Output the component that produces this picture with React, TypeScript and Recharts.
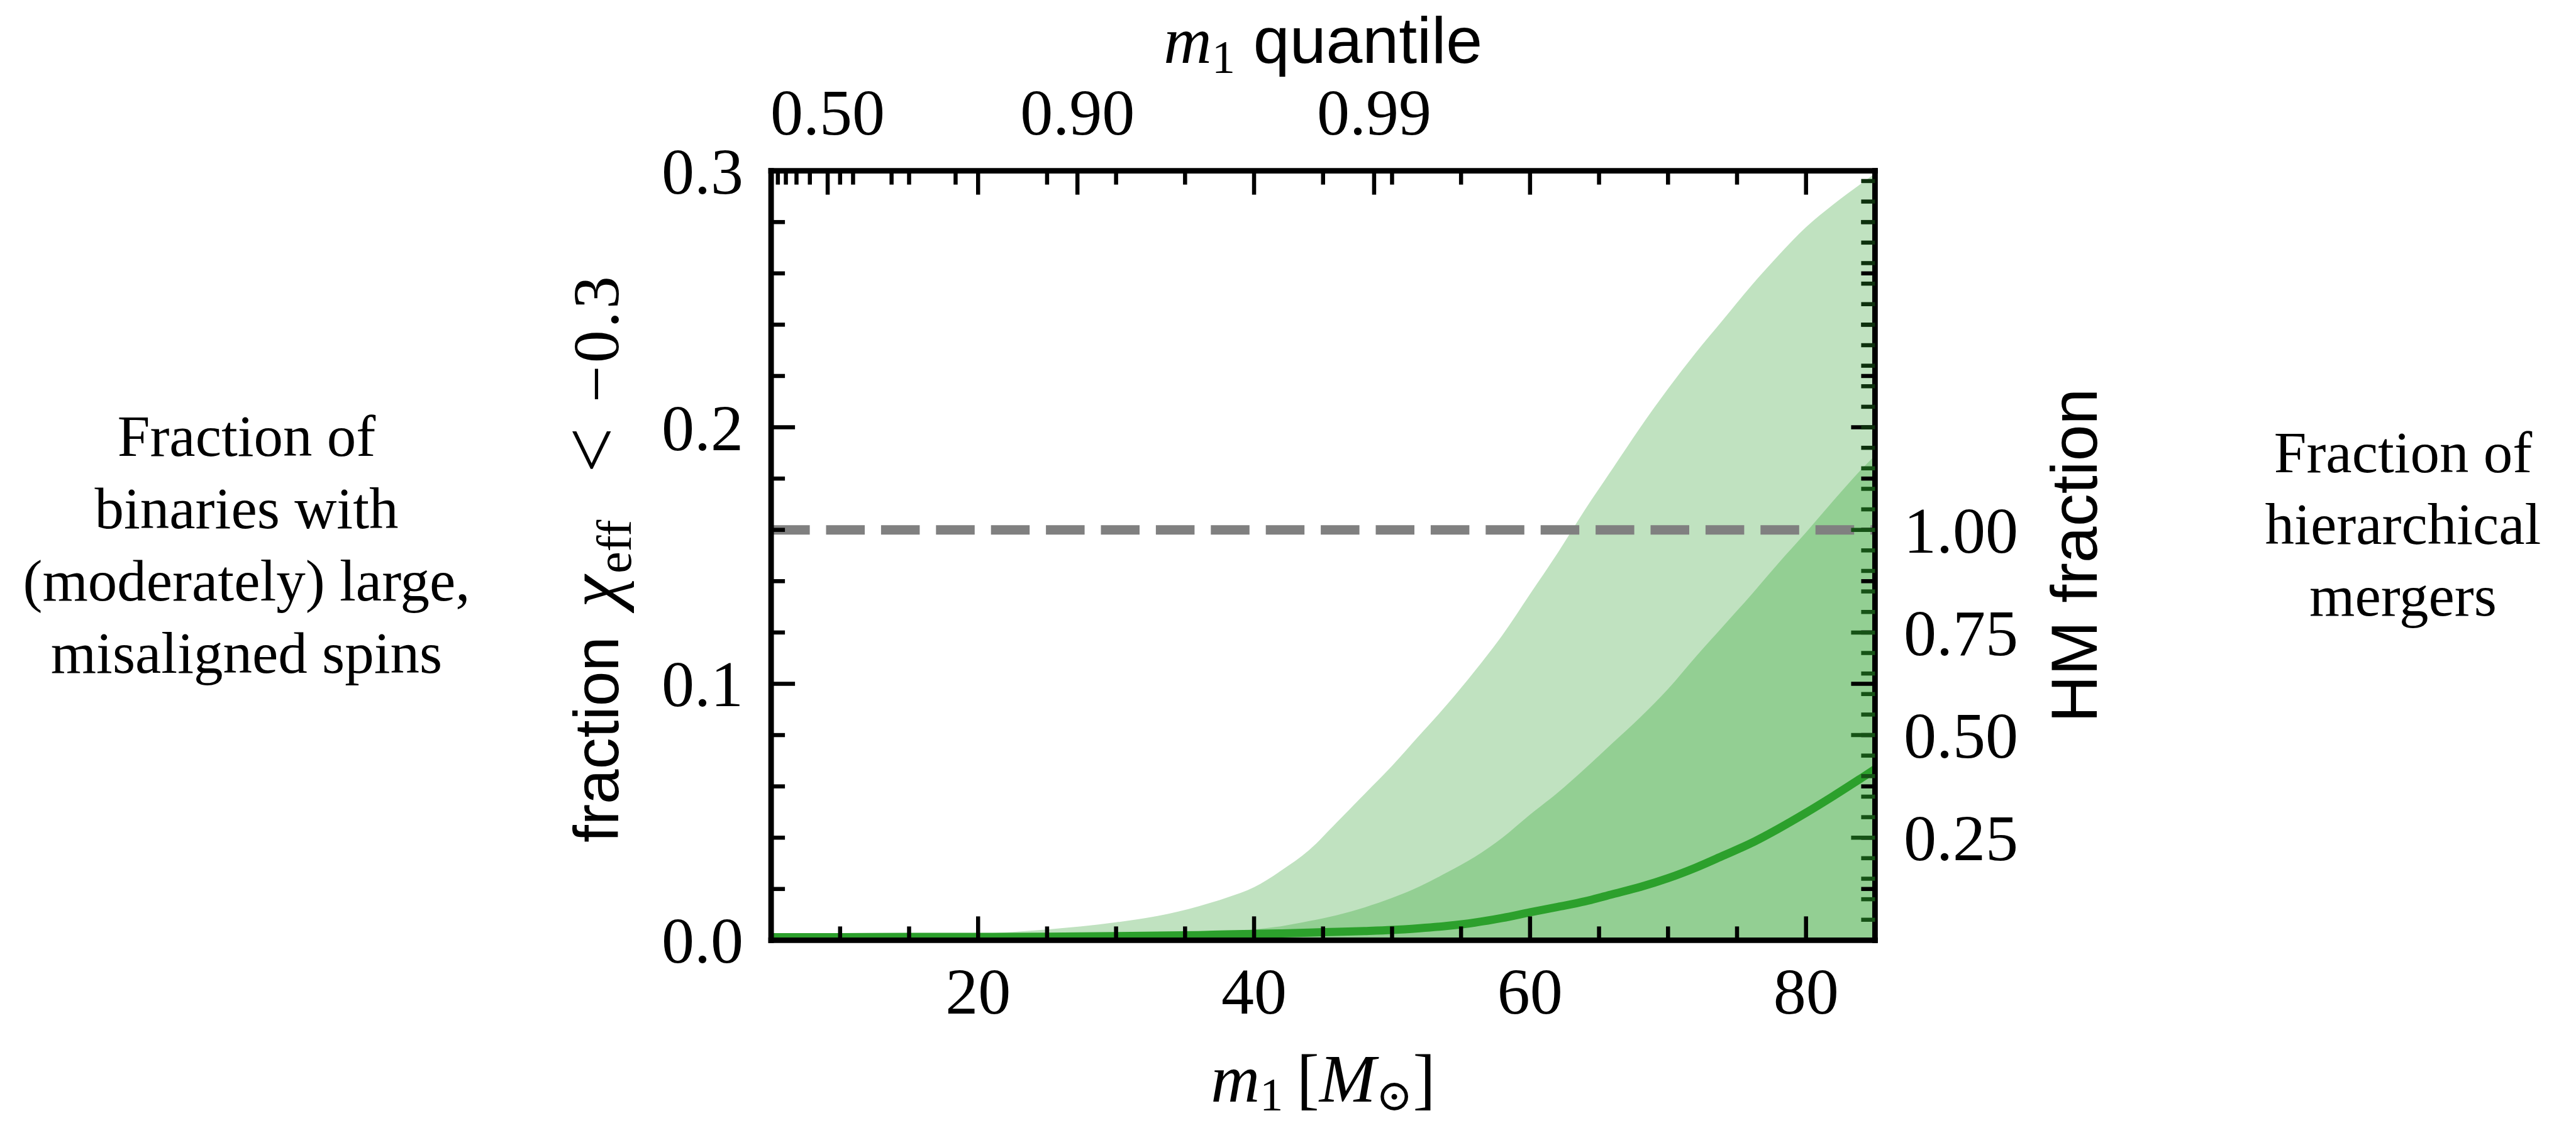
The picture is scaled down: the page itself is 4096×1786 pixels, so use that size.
import React from 'react';
import { ComposedChart, Area, Line, XAxis, YAxis, ReferenceLine, Label } from 'recharts';

// ---------------- data ----------------
const m1Values = [5, 10, 15, 20, 25, 30, 33, 36, 38, 40, 42, 44, 46, 48, 50, 52, 54, 56, 58, 60, 62, 64, 66, 68, 70, 72, 74, 76, 78, 80, 82, 84, 85];
const upper90 = [0.0004, 0.0008, 0.0015, 0.0025, 0.0042, 0.007, 0.0095, 0.0133, 0.0166, 0.0207, 0.0273, 0.0352, 0.046, 0.057, 0.068, 0.08, 0.092, 0.105, 0.119, 0.135, 0.151, 0.168, 0.184, 0.2, 0.215, 0.229, 0.242, 0.255, 0.267, 0.278, 0.287, 0.295, 0.299];
const upper50 = [0.0003, 0.0004, 0.0005, 0.0007, 0.001, 0.0014, 0.0018, 0.0024, 0.0032, 0.0042, 0.0055, 0.0075, 0.0098, 0.0128, 0.0165, 0.021, 0.0265, 0.0325, 0.04, 0.049, 0.0575, 0.067, 0.077, 0.087, 0.098, 0.1105, 0.1225, 0.1345, 0.147, 0.159, 0.1715, 0.1835, 0.189];
const medianValues = [0.0012, 0.0012, 0.0013, 0.0013, 0.0014, 0.0016, 0.0018, 0.002, 0.0023, 0.0025, 0.0027, 0.003, 0.0033, 0.0036, 0.004, 0.0047, 0.0056, 0.0069, 0.0087, 0.0109, 0.013, 0.0152, 0.018, 0.0208, 0.0242, 0.0283, 0.033, 0.0378, 0.0435, 0.0497, 0.0563, 0.0632, 0.0667];

const hmReferenceLevel = 0.16; // left-axis value where HM fraction = 1

const xMajorTicks = [20, 40, 60, 80];
const xMinorTicks = [10, 15, 25, 30, 35, 45, 50, 55, 65, 70, 75];
const yMajorTicks = [0, 0.1, 0.2, 0.3];
const yMinorTicks = [0.02, 0.04, 0.06, 0.08, 0.12, 0.14, 0.16, 0.18, 0.22, 0.24, 0.26, 0.28];
const hmMajorTicks = [0.25, 0.5, 0.75, 1.0];
const hmMajorLabels = ['0.25', '0.50', '0.75', '1.00'];
const hmMinorTicks = [0.05, 0.1, 0.15, 0.2, 0.3, 0.35, 0.4, 0.45, 0.55, 0.6, 0.65, 0.7, 0.8, 0.85, 0.9, 0.95, 1.05, 1.1, 1.15, 1.2, 1.25, 1.3, 1.35, 1.4, 1.45, 1.5, 1.55, 1.6, 1.65, 1.7, 1.75, 1.8, 1.85];
const quantileLabels = ['0.50', '0.90', '0.99'];
const quantileMajorM1 = [9.1, 27.2, 48.7];
const quantileMinorM1 = [5.49, 6.07, 6.84, 7.81, 10.94, 13.73, 18.37];

const leftNoteLines = ['Fraction of', 'binaries with', '(moderately) large,', 'misaligned spins'];
const rightNoteLines = ['Fraction of', 'hierarchical', 'mergers'];

const chartData = m1Values.map((m, i) => ({
  m1: m,
  upper90: upper90[i],
  upper50: upper50[i],
  median: medianValues[i],
}));

// ---------------- layout ----------------
const CHART_W = 4096;
const CHART_H = 1786;
const PLOT_L = 1226.1;
const PLOT_R = 2981.4;
const PLOT_T = 271.6;
const PLOT_B = 1495.4;
const PLOT_W = PLOT_R - PLOT_L;
const PLOT_H = PLOT_B - PLOT_T;
const AXIS_SIZE = 100;
const CX = (PLOT_L + PLOT_R) / 2;
const CY = (PLOT_T + PLOT_B) / 2;

const SERIF = "'Liberation Serif', 'DejaVu Serif', serif";
const SANS = "'Liberation Sans', 'DejaVu Sans', sans-serif";
const TICK_FONT = 104;
const TICK_W = 6.5;
const MAJOR_LEN = 38;
const MINOR_LEN = 22;
const FRAME_W = 8.85;

const LIGHT = '#c0e2c0';
const MEDIUM = '#93cf93';
const GREEN = '#2ca02c';

const isIn = (v: number, arr: number[]) => arr.some((a) => Math.abs(a - v) < 1e-6);
const idxIn = (v: number, arr: number[]) => arr.findIndex((a) => Math.abs(a - v) < 1e-6);

const axisLineStyle = { stroke: '#000', strokeWidth: FRAME_W, strokeLinecap: 'square' as const };

function BottomTick(props: any) {
  const { x, y, payload } = props;
  const v = payload.value;
  const major = isIn(v, xMajorTicks);
  const len = major ? MAJOR_LEN : MINOR_LEN;
  return (
    <g>
      <line x1={x} x2={x} y1={y} y2={y - len} stroke="#000" strokeWidth={TICK_W} />
      <line x1={x} x2={x} y1={y - PLOT_H} y2={y - PLOT_H + len} stroke="#000" strokeWidth={TICK_W} />
      {major && (
        <text x={x} y={y + 116.6} textAnchor="middle" fontFamily={SERIF} fontSize={TICK_FONT} fill="#000">
          {String(v)}
        </text>
      )}
    </g>
  );
}

function TopTick(props: any) {
  const { x, y, payload } = props;
  const v = payload.value;
  const k = idxIn(v, quantileMajorM1);
  const len = k >= 0 ? MAJOR_LEN : MINOR_LEN;
  return (
    <g>
      <line x1={x} x2={x} y1={y} y2={y + len} stroke="#000" strokeWidth={TICK_W} />
      {k >= 0 && (
        <text x={x} y={y - 57.3} textAnchor="middle" fontFamily={SERIF} fontSize={TICK_FONT} fill="#000">
          {quantileLabels[k]}
        </text>
      )}
    </g>
  );
}

function LeftTick(props: any) {
  const { x, y, payload } = props;
  const v = payload.value;
  const major = isIn(v, yMajorTicks);
  const len = major ? MAJOR_LEN : MINOR_LEN;
  return (
    <g>
      <line x1={x} x2={x + len} y1={y} y2={y} stroke="#000" strokeWidth={TICK_W} />
      <line x1={x + PLOT_W} x2={x + PLOT_W - len} y1={y} y2={y} stroke="#000" strokeWidth={TICK_W} />
      {major && (
        <text x={x - 44} y={y + 36} textAnchor="end" fontFamily={SERIF} fontSize={TICK_FONT} fill="#000">
          {v.toFixed(1)}
        </text>
      )}
    </g>
  );
}

const lastMediumHM = upper50[upper50.length - 1] / hmReferenceLevel;

function RightTick(props: any) {
  const { x, y, payload } = props;
  const v = payload.value;
  const k = idxIn(v, hmMajorTicks);
  const len = k >= 0 ? MAJOR_LEN : MINOR_LEN;
  const color = v < lastMediumHM ? '#165216' : '#0d300d';
  return (
    <g>
      <line x1={x} x2={x - len} y1={y} y2={y} stroke={color} strokeWidth={TICK_W} />
      {k >= 0 && (
        <text x={x + 45.6} y={y + 36} textAnchor="start" fontFamily={SERIF} fontSize={TICK_FONT} fill="#000">
          {hmMajorLabels[k]}
        </text>
      )}
    </g>
  );
}

function BottomTitle() {
  return (
    <text x={CX} y={1752} textAnchor="middle" fontFamily={SERIF} fontSize={108} fill="#000">
      <tspan fontStyle="italic">m</tspan>
      <tspan fontSize={74} dy={14}>1</tspan>
      <tspan dy={-14}>{'\u2009['}</tspan>
      <tspan fontStyle="italic">M</tspan>
      <tspan fontSize={70} dy={14}>{'\u2299'}</tspan>
      <tspan dy={-14}>]</tspan>
    </text>
  );
}

function TopTitle() {
  return (
    <text x={CX} y={100} textAnchor="middle" fontFamily={SERIF} fontSize={106} fill="#000">
      <tspan fontStyle="italic">m</tspan>
      <tspan fontSize={74} dy={16}>1</tspan>
      <tspan dy={-16} fontFamily={SANS} fontSize={104}>{' quantile'}</tspan>
    </text>
  );
}

function LeftTitles() {
  return (
    <g>
      <text transform={`translate(983, 0) rotate(-90)`} fontFamily={SERIF} fontSize={TICK_FONT} fill="#000">
        <tspan x={-1340} y={0} fontFamily={SANS} fontSize={100}>fraction</tspan>
        <tspan x={-966} y={0} fontStyle="italic" fontSize={116}>{'\u03c7'}</tspan>
        <tspan x={-912} y={20} fontSize={78}>eff</tspan>
        <tspan x={-752} y={0} fontSize={128}>{'<'}</tspan>
        <tspan x={-640} y={0} letterSpacing={4}>{'\u22120.3'}</tspan>
      </text>
      {leftNoteLines.map((t, i) => (
        <text key={t} x={392} y={724.5 + i * 115.1} textAnchor="middle" fontFamily={SERIF} fontSize={93} fill="#000">
          {t}
        </text>
      ))}
    </g>
  );
}

function RightTitles() {
  return (
    <g>
      <text
        transform={`translate(3334, ${CY}) rotate(-90)`}
        textAnchor="middle"
        fontFamily={SANS}
        fontSize={104}
        fill="#000"
      >
        HM fraction
      </text>
      {rightNoteLines.map((t, i) => (
        <text key={t} x={3821} y={751 + i * 113.8} textAnchor="middle" fontFamily={SERIF} fontSize={93} fill="#000">
          {t}
        </text>
      ))}
    </g>
  );
}

export default function App() {
  return (
    <div style={{ position: 'absolute', left: 0, top: 0, width: CHART_W, height: CHART_H, background: '#fff' }}>
      <ComposedChart
        width={CHART_W}
        height={CHART_H}
        data={chartData}
        margin={{
          left: PLOT_L - AXIS_SIZE,
          right: CHART_W - PLOT_R - AXIS_SIZE,
          top: PLOT_T - AXIS_SIZE,
          bottom: CHART_H - PLOT_B - AXIS_SIZE,
        }}
      >
        <Area
          type="monotone"
          dataKey="upper90"
          fill={LIGHT}
          fillOpacity={1}
          stroke="none"
          isAnimationActive={false}
          dot={false}
          activeDot={false}
        />
        <Area
          type="monotone"
          dataKey="upper50"
          fill={MEDIUM}
          fillOpacity={1}
          stroke="none"
          isAnimationActive={false}
          dot={false}
          activeDot={false}
        />
        <Line
          type="monotone"
          dataKey="median"
          stroke={GREEN}
          strokeWidth={13}
          dot={false}
          activeDot={false}
          isAnimationActive={false}
        />
        <ReferenceLine y={hmReferenceLevel} stroke="#808080" strokeWidth={15} strokeDasharray="61.5 25.9" />
        <XAxis
          dataKey="m1"
          type="number"
          domain={[5, 85]}
          allowDataOverflow
          ticks={[...xMajorTicks, ...xMinorTicks].sort((a, b) => a - b)}
          interval={0}
          height={AXIS_SIZE}
          tickSize={0}
          tickMargin={0}
          tickLine={false}
          axisLine={axisLineStyle}
          tick={BottomTick}
        >
          <Label content={BottomTitle} />
        </XAxis>
        <XAxis
          xAxisId="top"
          dataKey="m1"
          orientation="top"
          type="number"
          domain={[5, 85]}
          allowDataOverflow
          ticks={[...quantileMajorM1, ...quantileMinorM1].sort((a, b) => a - b)}
          interval={0}
          height={AXIS_SIZE}
          tickSize={0}
          tickMargin={0}
          tickLine={false}
          axisLine={axisLineStyle}
          tick={TopTick}
        >
          <Label content={TopTitle} />
        </XAxis>
        <YAxis
          type="number"
          domain={[0, 0.3]}
          allowDataOverflow
          ticks={[...yMajorTicks, ...yMinorTicks].sort((a, b) => a - b)}
          interval={0}
          width={AXIS_SIZE}
          tickSize={0}
          tickMargin={0}
          tickLine={false}
          axisLine={axisLineStyle}
          tick={LeftTick}
        >
          <Label content={LeftTitles} />
        </YAxis>
        <YAxis
          yAxisId="hm"
          orientation="right"
          type="number"
          domain={[0, 0.3 / hmReferenceLevel]}
          allowDataOverflow
          ticks={[...hmMajorTicks, ...hmMinorTicks].sort((a, b) => a - b)}
          interval={0}
          width={AXIS_SIZE}
          tickSize={0}
          tickMargin={0}
          tickLine={false}
          axisLine={axisLineStyle}
          tick={RightTick}
        >
          <Label content={RightTitles} />
        </YAxis>
      </ComposedChart>
    </div>
  );
}
